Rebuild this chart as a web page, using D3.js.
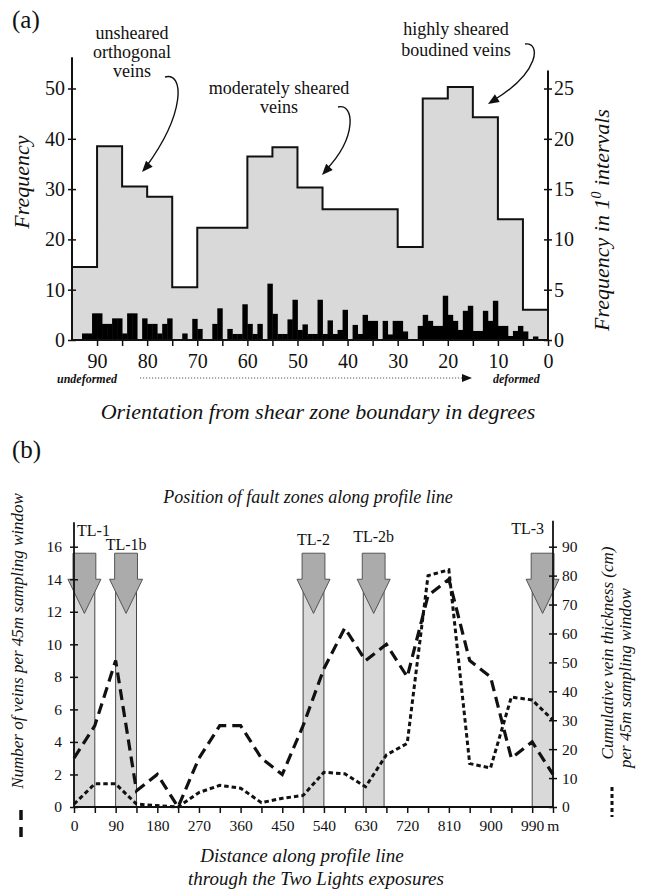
<!DOCTYPE html>
<html>
<head>
<meta charset="utf-8">
<script src="https://cdn.jsdelivr.net/npm/d3@7"></script>
<style>
  body { margin: 0; background: #fff; }
  svg { display: block; }
  text { font-family: "Liberation Serif", "Times New Roman", serif; fill: #111; }
</style>
</head>
<body>
<svg id="chart" width="653" height="895"></svg>
<script>
// ======================= DATA =======================
// Panel (a): orientation histogram, 5-degree bins (bin start, descending)
const orientBins = [95, 90, 85, 80, 75, 70, 65, 60, 55, 50, 45, 40, 35, 30, 25, 20, 15, 10, 5];
const freq5deg   = [14.5, 38.5, 30.5, 28.5, 10.5, 22.3, 22.3, 36.5, 38.3, 30.3, 26, 26, 26, 18.5, 48, 50.3, 44.3, 24, 6];
// Panel (a): 1-degree bins from 95-94 down to 1-0 (right axis units)
const freq1deg = [
  0, 0, 0.65, 0.65, 2.65,
  2.65, 1.6, 1.6, 2.15, 2.15,
  0.65, 2.65, 2.65, 0, 2.15,
  1.6, 1.6, 0.65, 1.6, 2.15,
  0, 0, 0.65, 0, 2.1,
  1.1, 0, 0, 1.6, 3.15,
  0, 1.1, 0.6, 0.6, 3.55,
  1.6, 0.6, 1.6, 0, 5.6,
  2.6, 0.6, 0.6, 2.05, 4,
  1, 1.55, 0.6, 0.6, 4,
  0.6, 1.95, 0.6, 1, 3,
  0, 1.5, 0.6, 2.5, 1.9,
  1.9, 0, 1.9, 0.55, 1.9,
  1.9, 0.85, 0, 0, 1.4,
  2.5, 1.9, 1.4, 1.4, 4.4,
  2.5, 1.9, 1, 2.9, 3.4,
  0.9, 0.9, 2.9, 1.9, 3.9,
  1.4, 1.4, 0.4, 0.9, 1.4,
  0.85, 0, 0.35, 0, 0
];
const orientTicks = [90, 85, 80, 75, 70, 65, 60, 55, 50, 45, 40, 35, 30, 25, 20, 15, 10, 5, 0];
const freqTicksL = [0, 10, 20, 30, 40, 50];
const freqTicksR = [0, 5, 10, 15, 20, 25];

// Panel (b): profile line
const distance  = [0, 45, 90, 135, 180, 225, 270, 315, 360, 405, 450, 495, 540, 585, 630, 675, 720, 765, 810, 855, 900, 945, 990, 1035];
const veinCount = [3, 5, 9, 1, 2, 0, 3, 5, 5, 3, 2, 5, 8.5, 11, 9, 10, 8, 13, 14, 9, 8, 3, 4, 2];
const veinThick = [1, 8, 8, 1, 0.5, 0, 5, 7.5, 6.5, 1.5, 3, 4, 12, 11.5, 7, 18, 22, 80, 82, 15, 13.5, 38, 37, 30];
const faultNames = ["TL-1", "TL-1b", "TL-2", "TL-2b", "TL-3"];
const faultFrom  = [0, 90, 495, 625, 990];
const faultTo    = [45, 135, 540, 670, 1035];
const distTicks  = [0, 45, 90, 135, 180, 225, 270, 315, 360, 405, 450, 495, 540, 585, 630, 675, 720, 765, 810, 855, 900, 945, 990, 1035];
const countTicks = [0, 2, 4, 6, 8, 10, 12, 14, 16];
const thickTicks = [0, 10, 20, 30, 40, 50, 60, 70, 80, 90];

// ======================= DRAW =======================
const svg = d3.select("#chart");
const FONT = '"Liberation Serif", "Times New Roman", serif';

// ---------- Panel (a) ----------
const xA  = d3.scaleLinear().domain([95, 0]).range([72, 548]);
const yAL = d3.scaleLinear().domain([0, 50]).range([340, 88.5]);
const yAR = d3.scaleLinear().domain([0, 25]).range([340, 88.5]);

const stepPts = orientBins.map((b, i) => ({ x: b, y: freq5deg[i] }));
stepPts.push({ x: 0, y: freq5deg[freq5deg.length - 1] });

svg.append("path").datum(stepPts)
  .attr("d", d3.area().x(d => xA(d.x)).y0(yAL(0)).y1(d => yAL(d.y)).curve(d3.curveStepAfter))
  .attr("fill", "#d9d9d9");

const bars = freq1deg.map((v, i) => ({ start: 95 - i, v }));
svg.append("g").selectAll("rect").data(bars.filter(d => d.v > 0)).join("rect")
  .attr("x", d => xA(d.start))
  .attr("width", d => xA(d.start - 1) - xA(d.start) + 0.4)
  .attr("y", d => yAR(d.v))
  .attr("height", d => yAR(0) - yAR(d.v))
  .attr("fill", "#000");

svg.append("path").datum(stepPts)
  .attr("d", d3.line().x(d => xA(d.x)).y(d => yAL(d.y)).curve(d3.curveStepAfter))
  .attr("fill", "none").attr("stroke", "#111").attr("stroke-width", 2);

function styleAxis(g, size) {
  g.attr("font-family", FONT).attr("font-size", size);
  g.select(".domain").remove();
  g.selectAll(".tick line").attr("stroke", "#111").attr("stroke-width", 1.5);
  g.selectAll(".tick text").attr("fill", "#111");
}

// left axis (a)
const gAL = svg.append("g").attr("transform", `translate(${xA(95)},0)`)
  .call(d3.axisLeft(yAL).tickValues(freqTicksL).tickSizeInner(4).tickSizeOuter(0).tickPadding(3));
styleAxis(gAL, 20);
gAL.selectAll(".tick line").attr("x1", 4);
svg.append("line").attr("x1", xA(95)).attr("x2", xA(95)).attr("y1", yAL(0)).attr("y2", yAL(56.2))
  .attr("stroke", "#111").attr("stroke-width", 2);

// right axis (a)
const gAR = svg.append("g").attr("transform", `translate(${xA(0)},0)`)
  .call(d3.axisRight(yAR).tickValues(freqTicksR).tickSizeInner(4).tickSizeOuter(0).tickPadding(2));
styleAxis(gAR, 20);
gAR.selectAll(".tick line").attr("x1", -4);
svg.append("line").attr("x1", xA(0)).attr("x2", xA(0)).attr("y1", yAL(0)).attr("y2", yAR(26.8))
  .attr("stroke", "#111").attr("stroke-width", 2);

// bottom axis (a)
const gAB = svg.append("g").attr("transform", `translate(0,${yAL(0)})`)
  .call(d3.axisBottom(xA).tickValues(orientTicks).tickSizeInner(6).tickSizeOuter(0).tickPadding(8)
    .tickFormat(d => d % 10 === 0 ? d : ""));
styleAxis(gAB, 20);
svg.append("line").attr("x1", xA(95)).attr("x2", xA(0)).attr("y1", yAL(0)).attr("y2", yAL(0))
  .attr("stroke", "#111").attr("stroke-width", 2);

// labels (a)
svg.append("text").attr("x", 12).attr("y", 28).attr("font-size", 25).text("(a)");
svg.append("text").attr("transform", "translate(29,182) rotate(-90)").attr("text-anchor", "middle")
  .attr("font-size", 22).attr("font-style", "italic").text("Frequency");
const rt = svg.append("text").attr("transform", "translate(609,220) rotate(-90)").attr("text-anchor", "middle")
  .attr("font-size", 22).attr("font-style", "italic");
rt.append("tspan").text("Frequency in 1");
rt.append("tspan").attr("font-size", 14).attr("dy", -8).text("0");
rt.append("tspan").attr("dy", 8).text(" intervals");

svg.append("text").attr("x", 318).attr("y", 419).attr("text-anchor", "middle")
  .attr("font-size", 22).attr("font-style", "italic").text("Orientation from shear zone boundary in degrees");

svg.append("text").attr("x", 57).attr("y", 383).attr("font-size", 12).attr("font-style", "italic")
  .attr("font-weight", "bold").text("undeformed");
svg.append("text").attr("x", 493).attr("y", 383).attr("font-size", 12).attr("font-style", "italic")
  .attr("font-weight", "bold").text("deformed");
svg.append("line").attr("x1", 140).attr("x2", 465).attr("y1", 378).attr("y2", 378)
  .attr("stroke", "#555").attr("stroke-width", 1).attr("stroke-dasharray", "1.2,1.8");
svg.append("path").attr("d", "M472,378 L462,374 L462,382 Z").attr("fill", "#111");

// annotations (a)
function annot(lines, cx, baselines) {
  lines.forEach((t, i) => svg.append("text").attr("x", cx).attr("y", baselines[i])
    .attr("text-anchor", "middle").attr("font-size", 18).text(t));
}
annot(["unsheared", "orthogonal", "veins"], 132, [39, 58, 77]);
annot(["moderately sheared", "veins"], 279, [94, 113]);
annot(["highly sheared", "boudined veins"], 456, [35, 56]);

function curvedArrow(d, tip, from) {
  svg.append("path").attr("d", d).attr("fill", "none").attr("stroke", "#111").attr("stroke-width", 1.4);
  const ang = Math.atan2(tip[1] - from[1], tip[0] - from[0]);
  const L = 11, Wd = 4.5;
  const bx = tip[0] - L * Math.cos(ang), by = tip[1] - L * Math.sin(ang);
  const px = -Math.sin(ang) * Wd, py = Math.cos(ang) * Wd;
  svg.append("path").attr("d", `M${tip[0]},${tip[1]} L${bx + px},${by + py} L${bx - px},${by - py} Z`).attr("fill", "#111");
}
curvedArrow("M165,77 C184,72 186,112 146,167", [142, 172], [160, 152]);
curvedArrow("M338,107 C354,103 358,136 326,170", [322, 175], [334, 162]);
curvedArrow("M525,44 C541,42 540,72 494,100", [488, 104], [504, 94]);

// ---------- Panel (b) ----------
const xB  = d3.scaleLinear().domain([0, 1035]).range([74, 553]);
const yBL = d3.scaleLinear().domain([0, 16]).range([807, 546.7]);
const yBR = d3.scaleLinear().domain([0, 90]).range([807, 546.7]);

const faults = faultNames.map((n, i) => ({ name: n, from: faultFrom[i], to: faultTo[i] }));

svg.append("g").selectAll("rect").data(faults).join("rect")
  .attr("x", d => xB(d.from)).attr("width", d => xB(d.to) - xB(d.from))
  .attr("y", yBL(14)).attr("height", yBL(0) - yBL(14))
  .attr("fill", "#d9d9d9").attr("stroke", "#333").attr("stroke-width", 0.9);

svg.append("g").selectAll("path").data(faults).join("path")
  .attr("d", d => {
    const x0 = xB(d.from) - 1, x1 = xB(d.to) + 1, cx = (xB(d.from) + xB(d.to)) / 2;
    const top = yBL(15.6), base = yBL(14), tip = yBL(11.9), hw = 16.5;
    return `M${x0},${top} L${x1},${top} L${x1},${base} L${cx + hw},${base} L${cx},${tip} L${cx - hw},${base} L${x0},${base} Z`;
  })
  .attr("fill", "#ababab").attr("stroke", "#555").attr("stroke-width", 1);

// lines
const countPts = distance.map((d, i) => [d, veinCount[i]]);
const thickPts = distance.map((d, i) => [d, veinThick[i]]);
svg.append("path").datum(thickPts)
  .attr("d", d3.line().x(d => xB(d[0])).y(d => yBR(d[1])))
  .attr("fill", "none").attr("stroke", "#111").attr("stroke-width", 3).attr("stroke-dasharray", "4.5,3");
svg.append("path").datum(countPts)
  .attr("d", d3.line().x(d => xB(d[0])).y(d => yBL(d[1])))
  .attr("fill", "none").attr("stroke", "#111").attr("stroke-width", 3.2).attr("stroke-dasharray", "11,6");

// axes (b)
const gBL = svg.append("g").attr("transform", `translate(${xB(0)},0)`)
  .call(d3.axisLeft(yBL).tickValues(countTicks).tickSizeInner(4).tickSizeOuter(0).tickPadding(8));
styleAxis(gBL, 15.5);
gBL.selectAll(".tick line").attr("x1", 4);
svg.append("line").attr("x1", xB(0)).attr("x2", xB(0)).attr("y1", yBL(0)).attr("y2", yBL(17.5))
  .attr("stroke", "#111").attr("stroke-width", 1.8);

const gBR = svg.append("g").attr("transform", `translate(${xB(1035)},0)`)
  .call(d3.axisRight(yBR).tickValues(thickTicks).tickSizeInner(4).tickSizeOuter(0).tickPadding(5));
styleAxis(gBR, 15.5);
gBR.selectAll(".tick line").attr("x1", -4);
svg.append("line").attr("x1", xB(1035)).attr("x2", xB(1035)).attr("y1", yBL(0)).attr("y2", yBL(17.6))
  .attr("stroke", "#111").attr("stroke-width", 1.8);

const gBB = svg.append("g").attr("transform", `translate(0,${yBL(0)})`)
  .call(d3.axisBottom(xB).tickValues(distTicks).tickSizeInner(6).tickSizeOuter(0).tickPadding(7)
    .tickFormat(d => (d % 90 === 0 && d <= 990) ? d : ""));
styleAxis(gBB, 15.5);
svg.append("line").attr("x1", xB(0)).attr("x2", xB(1035)).attr("y1", yBL(0)).attr("y2", yBL(0))
  .attr("stroke", "#111").attr("stroke-width", 1.8);
svg.append("text").attr("x", xB(990) + 15).attr("y", yBL(0) + 24).attr("font-size", 15.5).text("m");

// fault labels
const labelAnchor = ["start", "middle", "middle", "middle", "end"];
const labelBase = [536, 550, 545, 542, 534];
faults.forEach((f, i) => {
  let x = (xB(f.from) + xB(f.to)) / 2;
  if (i === 0) x = xB(0) + 3;
  if (i === 4) x = xB(1035) - 9;
  svg.append("text").attr("x", x).attr("y", labelBase[i]).attr("text-anchor", labelAnchor[i])
    .attr("font-size", 16).text(f.name);
});

// labels (b)
svg.append("text").attr("x", 12).attr("y", 458).attr("font-size", 25).text("(b)");
svg.append("text").attr("x", 308).attr("y", 503).attr("text-anchor", "middle")
  .attr("font-size", 18).attr("font-style", "italic").text("Position of fault zones along profile line");
svg.append("text").attr("x", 302).attr("y", 862).attr("text-anchor", "middle")
  .attr("font-size", 19).attr("font-style", "italic").text("Distance along profile line");
svg.append("text").attr("x", 316).attr("y", 885).attr("text-anchor", "middle")
  .attr("font-size", 19).attr("font-style", "italic").text("through the Two Lights exposures");

svg.append("text").attr("transform", "translate(23,641) rotate(-90)").attr("text-anchor", "middle")
  .attr("font-size", 17).attr("font-style", "italic").text("Number of veins  per 45m sampling window");
svg.append("line").attr("x1", 21).attr("x2", 21).attr("y1", 810).attr("y2", 838)
  .attr("stroke", "#111").attr("stroke-width", 3.5).attr("stroke-dasharray", "10,7");

svg.append("text").attr("transform", "translate(613,653) rotate(-90)").attr("text-anchor", "middle")
  .attr("font-size", 17).attr("font-style", "italic").text("Cumulative vein thickness (cm)");
svg.append("text").attr("transform", "translate(631,678) rotate(-90)").attr("text-anchor", "middle")
  .attr("font-size", 17).attr("font-style", "italic").text("per 45m sampling window");
svg.append("line").attr("x1", 612).attr("x2", 612).attr("y1", 787).attr("y2", 817)
  .attr("stroke", "#111").attr("stroke-width", 3).attr("stroke-dasharray", "4,3");
</script>
</body>
</html>
